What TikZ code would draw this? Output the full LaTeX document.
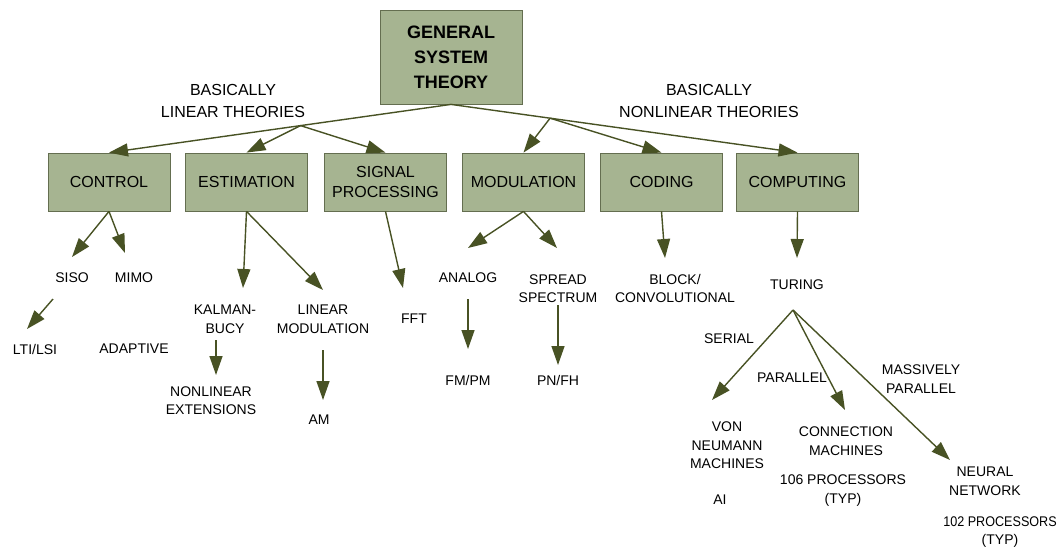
\documentclass[tikz,border=0pt]{standalone}
\usepackage{fontspec}
\setmainfont{Liberation Sans}
\usetikzlibrary{arrows.meta,calc}
\definecolor{boxfill}{RGB}{166,180,145}
\definecolor{boxline}{RGB}{100,110,80}
\definecolor{arrowcol}{RGB}{72,82,36}

\begin{document}
\begin{tikzpicture}[x=1pt,y=-1pt,
  topic/.style={draw=boxline, line width=0.8pt, fill=boxfill,
    minimum width=122pt, minimum height=58pt, inner sep=0pt, align=center,
    font=\fontsize{16}{20.5}\selectfont},
  rootbox/.style={topic, minimum width=142pt, minimum height=94pt,
    font=\bfseries\fontsize{18}{25}\selectfont},
  lbl/.style={inner sep=0pt, align=center, font=\fontsize{14}{18.5}\selectfont},
  biglbl/.style={inner sep=0pt, align=center, font=\fontsize{16}{22}\selectfont},
  link/.style={draw=arrowcol, line width=1.4pt,
    -{Triangle[length=19pt,width=13pt]}}
]
\useasboundingbox (0,0) rectangle (1059,550);

% root and first-level disciplines
\node[rootbox] (gst) at (451,57) {GENERAL\\SYSTEM\\THEORY};
\node[biglbl] (lin) at (233,101) {BASICALLY\\LINEAR THEORIES};
\node[biglbl] (nonlin) at (709,101) {BASICALLY\hspace{9pt}\\NONLINEAR THEORIES};

\node[topic] (control) at (109,182) {CONTROL};
\node[topic] (estim) at (246.5,182) {ESTIMATION};
\node[topic] (sigproc) at (385.5,182) {SIGNAL\\PROCESSING};
\node[topic] (modul) at (523.5,182) {MODULATION};
\node[topic] (coding) at (661.5,182) {CODING};
\node[topic] (comput) at (797.5,182) {COMPUTING};

% branch points on the two trunk lines
\coordinate (lj) at ($(gst.south)!0.44!(control.north)$);
\coordinate (rj) at ($(gst.south)!0.286!(comput.north)$);

\draw[link] (gst.south) -- (control.north);
\draw[link] (lj) -- (estim.north);
\draw[link] (lj) -- (sigproc.north);
\draw[link] (gst.south) -- (comput.north);
\draw[link] (rj) -- (modul.north);
\draw[link] (rj) -- (coding.north);

% control
\node[lbl] (siso) at (72,278) {SISO};
\node[lbl] (mimo) at (134,278) {MIMO};
\node[lbl] (lti) at (35,349) {LTI/LSI};
\node[lbl] (adaptive) at (134,349) {ADAPTIVE};
\coordinate (sisoTip) at (72,257);
\coordinate (mimoTip) at (125,253);
\coordinate (ltiFrom) at (53,299);
\coordinate (ltiTip) at (27,329);
\draw[link] (control.south) -- (sisoTip);
\draw[link] (control.south) -- (mimoTip);
\draw[link] (ltiFrom) -- (ltiTip);

% estimation
\node[lbl] (kalman) at (225,319) {KALMAN-\\BUCY};
\node[lbl] (nonlinext) at (211,400.5) {NONLINEAR\\EXTENSIONS};
\node[lbl] (linmod) at (323,319) {LINEAR\\MODULATION};
\node[lbl] (am) at (319,420) {AM};
\coordinate (kalmanTip) at (243,288);
\coordinate (linmodTip) at (323,290);
\coordinate (nlFrom) at (216,340);
\coordinate (nlTip) at (216,375);
\coordinate (amFrom) at (323,350);
\coordinate (amTip) at (323,400);
\draw[link] (estim.south) -- (kalmanTip);
\draw[link] (estim.south) -- (linmodTip);
\draw[link] (nlFrom) -- (nlTip);
\draw[link] (amFrom) -- (amTip);

% signal processing
\node[lbl] (fft) at (414,319) {FFT};
\coordinate (fftTip) at (403,288);
\draw[link] (sigproc.south) -- (fftTip);

% modulation
\node[lbl] (analog) at (468,278) {ANALOG};
\node[lbl] (spread) at (558,288.5) {SPREAD\\SPECTRUM};
\node[lbl] (fmpm) at (468,380) {FM/PM};
\node[lbl] (pnfh) at (558,380) {PN/FH};
\coordinate (analogTip) at (468,248);
\coordinate (spreadTip) at (557,248);
\coordinate (fmFrom) at (468,299);
\coordinate (fmTip) at (468,349);
\coordinate (pnFrom) at (558,305);
\coordinate (pnTip) at (558,365);
\draw[link] (modul.south) -- (analogTip);
\draw[link] (modul.south) -- (spreadTip);
\draw[link] (fmFrom) -- (fmTip);
\draw[link] (pnFrom) -- (pnTip);

% coding
\node[lbl] (block) at (675,288.5) {BLOCK/\\CONVOLUTIONAL};
\coordinate (blockTip) at (665,258);
\draw[link] (coding.south) -- (blockTip);

% computing
\node[lbl] (turing) at (797,285) {TURING};
\coordinate (turingTip) at (797,258);
\draw[link] (comput.south) -- (turingTip);

\coordinate (fan) at (793,310);
\node[lbl] (serial) at (729,339) {SERIAL};
\node[lbl] (parallel) at (792,378) {PARALLEL};
\node[lbl] (massive) at (921,379) {MASSIVELY\\PARALLEL};
\node[lbl] (vonneumann) at (727,445.5) {VON\\NEUMANN\\MACHINES};
\node[lbl] (ai) at (720,500) {AI};
\node[lbl] (connection) at (846,441) {CONNECTION\\MACHINES};
\node[lbl] (proc106) at (843,490.5) {106 PROCESSORS\\(TYP)};
\node[lbl] (neural) at (985,481) {NEURAL\\NETWORK};
\node[lbl] (proc102) at (1000,532) {\scalebox{0.9}[1]{102 PROCESSORS}\\(TYP)};
\coordinate (vonTip) at (712,400);
\coordinate (connTip) at (845,410);
\coordinate (neuralTip) at (950,460);
\draw[link] (fan) -- (vonTip);
\draw[link] (fan) -- (connTip);
\draw[link] (fan) -- (neuralTip);

\end{tikzpicture}
\end{document}
